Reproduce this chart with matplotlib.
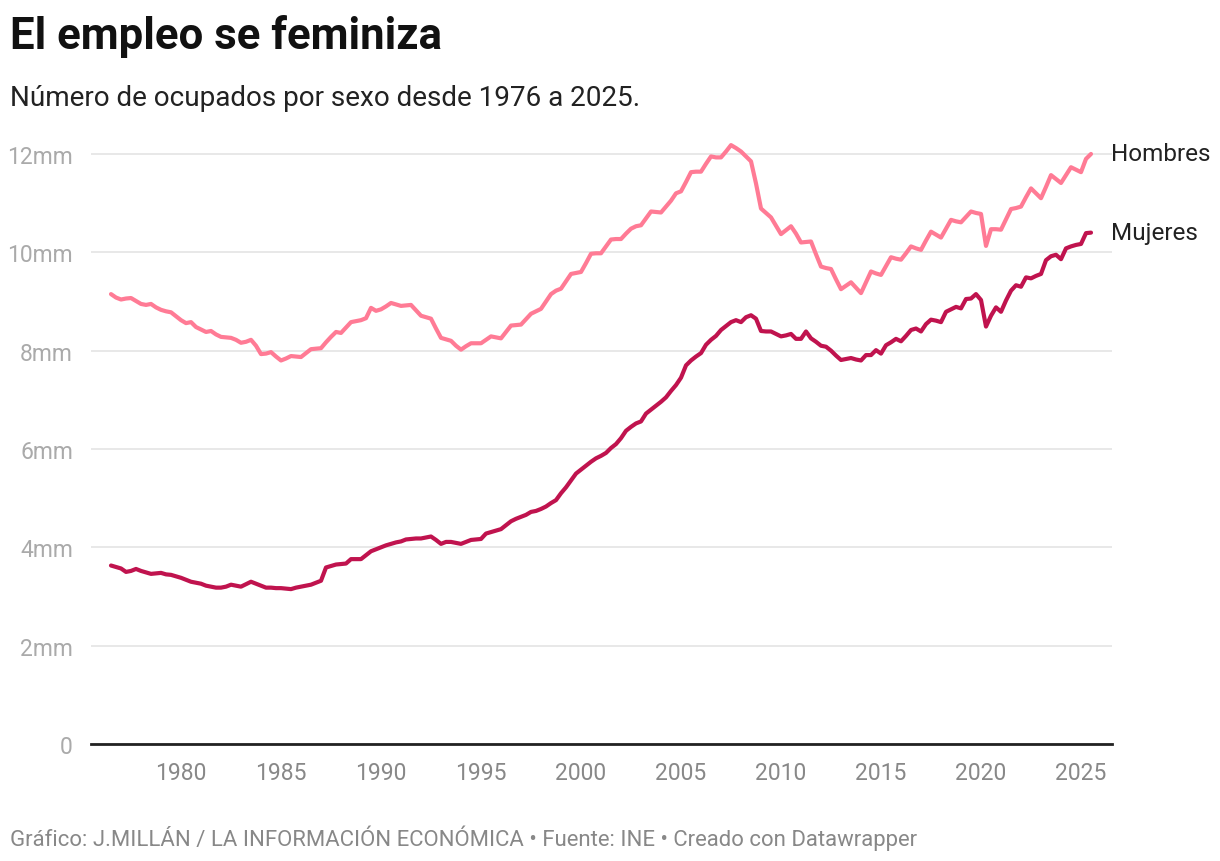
import matplotlib
matplotlib.use('Agg')
import matplotlib.pyplot as plt
import numpy as np

plt.rcParams['font.family'] = ['Roboto', 'DejaVu Sans']

# quarterly, from 1976 Q3 to 2025 Q3 (millions of people employed)
start_year = 1976.5
hombres = [
    9.15, 9.08,
    9.04, 9.06, 9.07, 9.01,
    8.95, 8.93, 8.95, 8.88,
    8.83, 8.80, 8.78, 8.70,
    8.62, 8.56, 8.58, 8.48,
    8.43, 8.38, 8.40, 8.33,
    8.28, 8.27, 8.26, 8.22,
    8.16, 8.18, 8.22, 8.10,
    7.93, 7.94, 7.97, 7.88,
    7.80, 7.84, 7.89, 7.88,
    7.87, 7.95, 8.03, 8.04,
    8.05, 8.17, 8.28, 8.38,
    8.36, 8.47, 8.58, 8.60,
    8.62, 8.66, 8.87, 8.81,
    8.84, 8.90, 8.97, 8.94,
    8.91, 8.92, 8.93, 8.82,
    8.71, 8.68, 8.65, 8.45,
    8.26, 8.23, 8.20, 8.10,
    8.02, 8.09, 8.15, 8.15,
    8.15, 8.22, 8.29, 8.27,
    8.25, 8.38, 8.51, 8.52,
    8.53, 8.64, 8.75, 8.80,
    8.85, 9.00, 9.15, 9.22,
    9.26, 9.41, 9.56, 9.58,
    9.60, 9.78, 9.97, 9.98,
    9.98, 10.12, 10.26, 10.27,
    10.27, 10.38, 10.48, 10.53,
    10.55, 10.69, 10.83, 10.82,
    10.81, 10.93, 11.05, 11.20,
    11.24, 11.43, 11.63, 11.64,
    11.64, 11.80, 11.95, 11.93,
    11.93, 12.05, 12.18, 12.12,
    12.05, 11.95, 11.85, 11.40,
    10.89, 10.80, 10.71, 10.54,
    10.37, 10.45, 10.53, 10.38,
    10.20, 10.21, 10.22, 9.96,
    9.71, 9.68, 9.66, 9.45,
    9.25, 9.32, 9.39, 9.28,
    9.17, 9.39, 9.61, 9.57,
    9.54, 9.72, 9.90, 9.87,
    9.85, 9.98, 10.12, 10.08,
    10.05, 10.24, 10.42, 10.36,
    10.30, 10.48, 10.66, 10.63,
    10.61, 10.72, 10.83, 10.80,
    10.78, 10.13, 10.47, 10.47,
    10.46, 10.67, 10.88, 10.90,
    10.93, 11.12, 11.30, 11.20,
    11.10, 11.33, 11.57, 11.49,
    11.41, 11.57, 11.73, 11.68,
    11.63, 11.90, 12.00,
]
mujeres = [
    3.63, 3.60,
    3.57, 3.50, 3.52, 3.56,
    3.52, 3.49, 3.46, 3.47,
    3.48, 3.45, 3.44, 3.41,
    3.38, 3.34, 3.30, 3.28,
    3.26, 3.22, 3.20, 3.18,
    3.18, 3.20, 3.24, 3.22,
    3.20, 3.25, 3.30, 3.26,
    3.22, 3.18, 3.18, 3.17,
    3.17, 3.16, 3.15, 3.18,
    3.20, 3.22, 3.24, 3.28,
    3.32, 3.59, 3.62, 3.65,
    3.66, 3.67, 3.76, 3.76,
    3.76, 3.84, 3.92, 3.96,
    4.00, 4.04, 4.07, 4.10,
    4.12, 4.16, 4.17, 4.18,
    4.18, 4.20, 4.22, 4.15,
    4.07, 4.11, 4.11, 4.09,
    4.07, 4.11, 4.15, 4.16,
    4.17, 4.28, 4.31, 4.34,
    4.37, 4.45, 4.53, 4.58,
    4.62, 4.66, 4.72, 4.74,
    4.78, 4.83, 4.90, 4.96,
    5.10, 5.22, 5.36, 5.50,
    5.58, 5.66, 5.74, 5.81,
    5.86, 5.92, 6.02, 6.10,
    6.22, 6.37, 6.45, 6.52,
    6.56, 6.72, 6.80, 6.88,
    6.96, 7.05, 7.18, 7.30,
    7.45, 7.70, 7.80, 7.88,
    7.95, 8.12, 8.22, 8.30,
    8.42, 8.50, 8.58, 8.62,
    8.58, 8.68, 8.72, 8.65,
    8.40, 8.39, 8.39, 8.34,
    8.29, 8.31, 8.34, 8.24,
    8.24, 8.39, 8.25, 8.18,
    8.10, 8.08, 8.00, 7.90,
    7.81, 7.83, 7.85, 7.82,
    7.80, 7.91, 7.91, 8.01,
    7.94, 8.11, 8.17, 8.24,
    8.19, 8.30, 8.42, 8.45,
    8.39, 8.54, 8.63, 8.61,
    8.58, 8.79, 8.84, 8.89,
    8.86, 9.05, 9.06, 9.15,
    9.03, 8.49, 8.71, 8.88,
    8.79, 9.02, 9.22, 9.33,
    9.30, 9.49, 9.47, 9.52,
    9.56, 9.84, 9.92, 9.95,
    9.86, 10.08, 10.12, 10.15,
    10.17, 10.39, 10.40,
]
series_names = ['Hombres', 'Mujeres']
series_colors = ['#ff7b95', '#c0134e']
xticks = [1980, 1985, 1990, 1995, 2000, 2005, 2010, 2015, 2020, 2025]
yticks = [0, 2, 4, 6, 8, 10, 12]
ytick_labels = ['0', '2mm', '4mm', '6mm', '8mm', '10mm', '12mm']

t = start_year + 0.25 * np.arange(len(hombres))

fig = plt.figure(figsize=(12.2, 8.62), dpi=100)
ax = fig.add_axes([91/1220, 117/862, (1112-91)/1220, 609.7/862])

for vals, name, col in zip([hombres, mujeres], series_names, series_colors):
    ax.plot(t, vals, color=col, lw=3, solid_joinstyle='round', solid_capstyle='round', zorder=3)
    ax.text(t[-1] + 1.0, vals[-1], name, fontsize=17.5, color='#222222',
            va='center', ha='left')

ax.set_xlim(1975.5, 2026.55)
ax.set_ylim(0, 12.4)
ax.set_yticks(yticks)
ax.set_yticklabels(ytick_labels)
ax.set_xticks(xticks)
ax.grid(axis='y', color='#e2e2e2', lw=1.1)
ax.set_axisbelow(True)
for s in ['top', 'right', 'left']:
    ax.spines[s].set_visible(False)
ax.spines['bottom'].set_color('#222222')
ax.spines['bottom'].set_linewidth(2)
ax.spines['bottom'].set_zorder(4)
ax.tick_params(axis='y', length=0, pad=13, labelsize=16.5, labelcolor='#aaaaaa')
ax.tick_params(axis='x', length=0, pad=12, labelsize=16.5, labelcolor='#888888')

fig.text(10/1220, 1 - 36/862, 'El empleo se feminiza', fontsize=31.5, fontweight='bold',
         color='#111111', va='center', ha='left')
fig.text(10/1220, 1 - 98/862, 'Número de ocupados por sexo desde 1976 a 2025.',
         fontsize=20.1, color='#222222', va='center', ha='left')
fig.text(10/1220, 1 - 838/862,
         'Gráfico: J.MILLÁN / LA INFORMACIÓN ECONÓMICA • Fuente: INE • Creado con Datawrapper',
         fontsize=15.9, color='#888888', va='center', ha='left')

fig.savefig('out.png', dpi=100, facecolor='white')
